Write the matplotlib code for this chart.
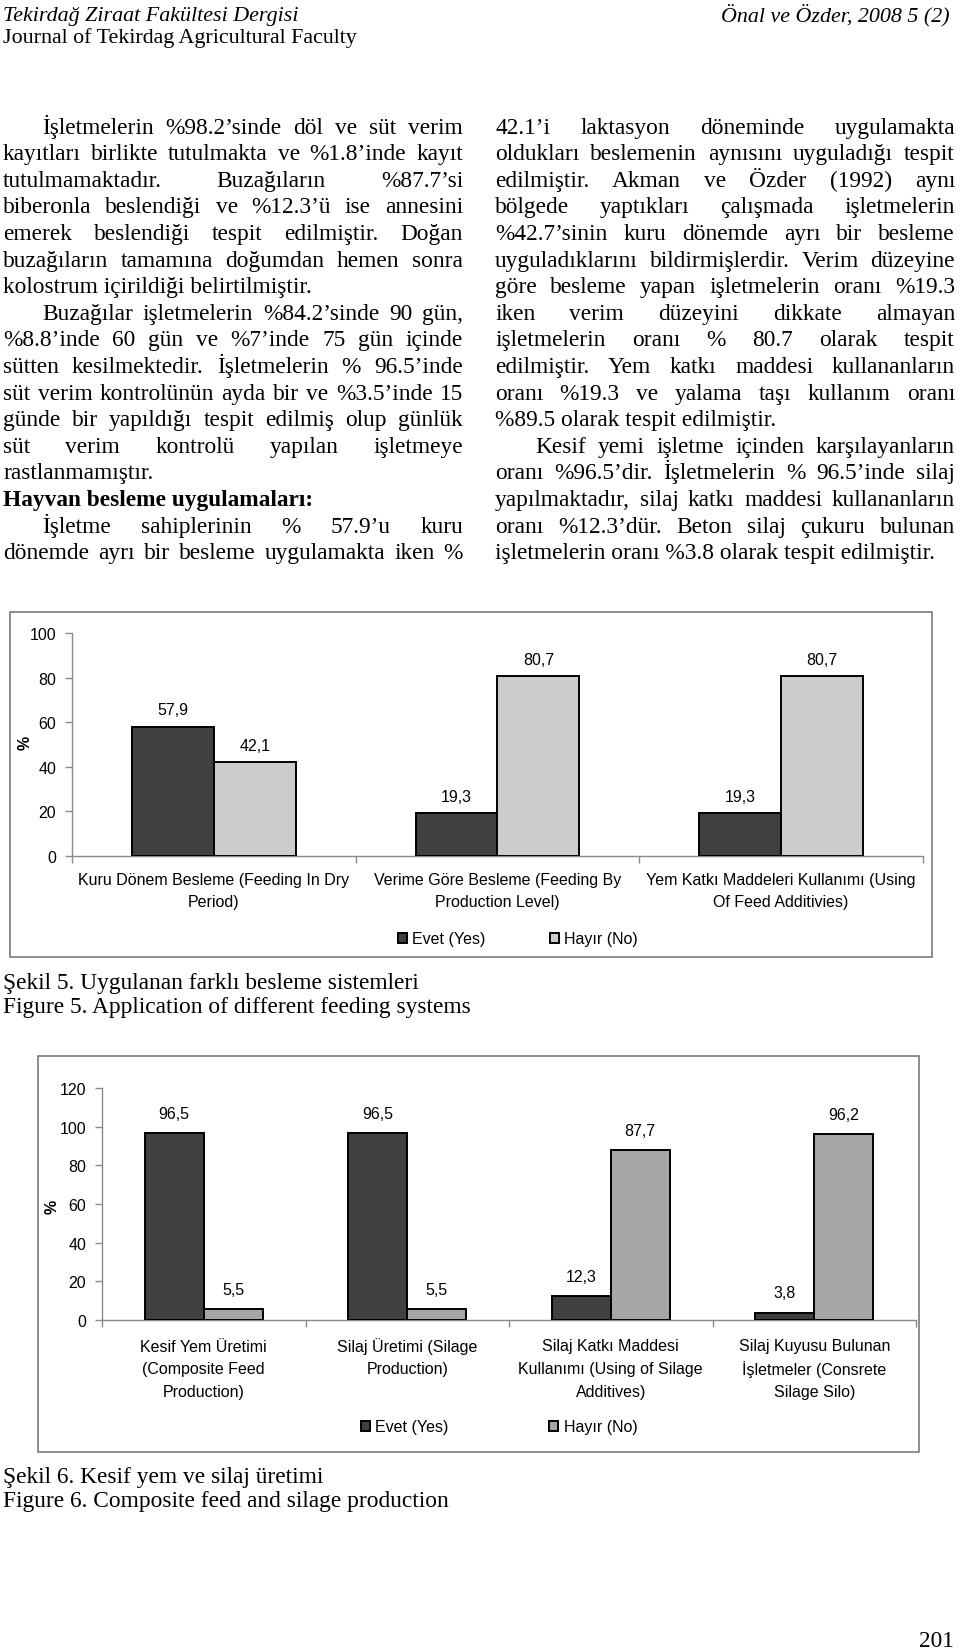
import matplotlib
matplotlib.use('Agg')
import matplotlib.pyplot as plt
from matplotlib.patches import Rectangle
from matplotlib.font_manager import FontProperties
import numpy as np

# ---------------- data ----------------
cats1 = ['Kuru Dönem Besleme (Feeding In Dry\nPeriod)',
         'Verime Göre Besleme (Feeding By\nProduction Level)',
         'Yem Katkı Maddeleri Kullanımı (Using\nOf Feed Additivies)']
evet1 = [57.9, 19.3, 19.3]
hayir1 = [42.1, 80.7, 80.7]

cats2 = ['Kesif Yem Üretimi\n(Composite Feed\nProduction)',
         'Silaj Üretimi (Silage\nProduction)',
         'Silaj Katkı Maddesi\nKullanımı (Using of Silage\nAdditives)',
         'Silaj Kuyusu Bulunan\nİşletmeler (Consrete\nSilage Silo)']
evet2 = [96.5, 96.5, 12.3, 3.8]
hayir2 = [5.5, 5.5, 87.7, 96.2]

legend_labels = ['Evet (Yes)', 'Hayır (No)']
yticks1 = [0, 20, 40, 60, 80, 100]
yticks2 = [0, 20, 40, 60, 80, 100, 120]

header_left1 = 'Tekirdağ Ziraat Fakültesi Dergisi'
header_left2 = 'Journal of Tekirdag Agricultural Faculty'
header_right = 'Önal ve Özder, 2008 5 (2)'

# (text, mode) mode: J justified, L left, I indent+justified, B bold left
left_col = [
    ('İşletmelerin %98.2’sinde döl ve süt verim', 'I'),
    ('kayıtları birlikte tutulmakta ve %1.8’inde kayıt', 'J'),
    ('tutulmamaktadır. Buzağıların %87.7’si', 'J'),
    ('biberonla beslendiği ve %12.3’ü ise annesini', 'J'),
    ('emerek beslendiği tespit edilmiştir. Doğan', 'J'),
    ('buzağıların tamamına doğumdan hemen sonra', 'J'),
    ('kolostrum içirildiği belirtilmiştir.', 'L'),
    ('Buzağılar işletmelerin %84.2’sinde 90 gün,', 'I'),
    ('%8.8’inde 60 gün ve %7’inde 75 gün içinde', 'J'),
    ('sütten kesilmektedir. İşletmelerin % 96.5’inde', 'J'),
    ('süt verim kontrolünün ayda bir ve %3.5’inde 15', 'J'),
    ('günde bir yapıldığı tespit edilmiş olup günlük', 'J'),
    ('süt verim kontrolü yapılan işletmeye', 'J'),
    ('rastlanmamıştır.', 'L'),
    ('Hayvan besleme uygulamaları:', 'B'),
    ('İşletme sahiplerinin % 57.9’u kuru', 'I'),
    ('dönemde ayrı bir besleme uygulamakta iken %', 'J'),
]
right_col = [
    ('42.1’i laktasyon döneminde uygulamakta', 'J'),
    ('oldukları beslemenin aynısını uyguladığı tespit', 'J'),
    ('edilmiştir. Akman ve Özder (1992) aynı', 'J'),
    ('bölgede yaptıkları çalışmada işletmelerin', 'J'),
    ('%42.7’sinin kuru dönemde ayrı bir besleme', 'J'),
    ('uyguladıklarını bildirmişlerdir. Verim düzeyine', 'J'),
    ('göre besleme yapan işletmelerin oranı %19.3', 'J'),
    ('iken verim düzeyini dikkate almayan', 'J'),
    ('işletmelerin oranı % 80.7 olarak tespit', 'J'),
    ('edilmiştir. Yem katkı maddesi kullananların', 'J'),
    ('oranı %19.3 ve yalama taşı kullanım oranı', 'J'),
    ('%89.5 olarak tespit edilmiştir.', 'L'),
    ('Kesif yemi işletme içinden karşılayanların', 'I'),
    ('oranı %96.5’dir. İşletmelerin % 96.5’inde silaj', 'J'),
    ('yapılmaktadır, silaj katkı maddesi kullananların', 'J'),
    ('oranı %12.3’dür. Beton silaj çukuru bulunan', 'J'),
    ('işletmelerin oranı %3.8 olarak tespit edilmiştir.', 'L'),
]
caption5 = ['Şekil 5. Uygulanan farklı besleme sistemleri',
            'Figure 5. Application of different feeding systems']
caption6 = ['Şekil 6. Kesif yem ve silaj üretimi',
            'Figure 6. Composite feed and silage production']
page_no = '201'

# ---------------- figure ----------------
W, H, DPI = 960, 1649, 100
fig = plt.figure(figsize=(W / DPI, H / DPI), dpi=DPI)
fig.patch.set_facecolor('white')
renderer = fig.canvas.get_renderer()

SERIF = ['Liberation Serif', 'DejaVu Serif']
SANS = ['Liberation Sans', 'DejaVu Sans']
BODY_FS = 16.8
fp_body = FontProperties(family=SERIF, size=BODY_FS)
fp_bold = FontProperties(family=SERIF, size=BODY_FS, weight='bold')
fp_head = FontProperties(family=SERIF, size=15.8)
fp_head_it = FontProperties(family=SERIF, size=15.8, style='italic')
CH_FS = 11.5
fp_sans = FontProperties(family=SANS, size=CH_FS)
fp_sans_b = FontProperties(family=SANS, size=CH_FS, weight='bold')


def fx(x):
    return x / W


def fy(y):
    return 1 - y / H


def twidth(s, fp):
    w, h, d = renderer.get_text_width_height_descent(s, fp, ismath=False)
    return w


def put(s, x, yc, fp, ha='left'):
    base = yc + 0.28 * fp.get_size() * DPI / 72.0
    fig.text(fx(x), fy(base), s, fontproperties=fp, ha=ha, va='baseline')


def draw_column(lines, x0, x1, y0, dy, indent):
    for i, (s, mode) in enumerate(lines):
        yc = y0 + i * dy
        fp = fp_bold if mode == 'B' else fp_body
        xs = x0 + (indent if mode == 'I' else 0)
        if mode in ('L', 'B'):
            put(s, xs, yc, fp)
            continue
        words = s.split()
        widths = [twidth(w, fp) for w in words]
        gap = (x1 - xs - sum(widths)) / (len(words) - 1)
        x = xs
        for w, wd in zip(words, widths):
            put(w, x, yc, fp)
            x += wd + gap


# header
put(header_left1, 3, 15, fp_head_it)
put(header_left2, 3, 37, fp_head)
put(header_right, 950, 15, fp_head_it, ha='right')

# body
LINE = 26.6
draw_column(left_col, 3, 463, 127, LINE, 39)
draw_column(right_col, 495, 955, 127, LINE, 40)


def add_box(x0, y0, x1, y1):
    fig.add_artist(Rectangle((fx(x0), fy(y1)), (x1 - x0) / W, (y1 - y0) / H,
                             transform=fig.transFigure, fill=False,
                             edgecolor='#7a7a7a', lw=1.2))


def make_chart(axpix, cats, ev, hy, yticks, light, lab_off, cat_off, cat_sp,
               width, ylab_xy, leg_xy, colsp):
    l, t, r, b = axpix
    ax = fig.add_axes([fx(l), fy(b), (r - l) / W, (b - t) / H])
    n = len(cats)
    x = np.arange(n)
    b1 = ax.bar(x - width / 2, ev, width, color='#404040', edgecolor='black', lw=1.4, zorder=3)
    b2 = ax.bar(x + width / 2, hy, width, color=light, edgecolor='black', lw=1.4, zorder=3)
    ax.set_xlim(-0.5, n - 0.5)
    ax.set_ylim(yticks[0], yticks[-1])
    ax.set_yticks(yticks)
    ax.set_yticklabels([str(v) for v in yticks])
    ax.set_xticks(np.arange(n + 1) - 0.5)
    ax.set_xticklabels([''] * (n + 1))
    for sp in ('top', 'right'):
        ax.spines[sp].set_visible(False)
    for sp in ('left', 'bottom'):
        ax.spines[sp].set_color('#8a8a8a')
        ax.spines[sp].set_linewidth(1.0)
    ax.tick_params(axis='both', direction='out', length=5, color='#8a8a8a', width=1.0)
    ax.tick_params(axis='y', pad=6.5)
    for lab in ax.get_yticklabels():
        lab.set_fontproperties(fp_sans)
    ax.set_facecolor('none')
    for xi, v in zip(x - width / 2, ev):
        ax.annotate(f'{v:.1f}'.replace('.', ','), xy=(xi, v), xytext=(0, lab_off),
                    textcoords='offset points', ha='center', va='center',
                    fontproperties=fp_sans)
    for xi, v in zip(x + width / 2, hy):
        ax.annotate(f'{v:.1f}'.replace('.', ','), xy=(xi, v), xytext=(0, lab_off),
                    textcoords='offset points', ha='center', va='center',
                    fontproperties=fp_sans)
    for xi, c in zip(x, cats):
        for j, line in enumerate(c.split('\n')):
            ax.annotate(line, xy=(xi, 0), xycoords=('data', 'axes fraction'),
                        xytext=(0, -(cat_off + j * cat_sp) * 0.72),
                        textcoords='offset points', ha='center', va='center',
                        fontproperties=fp_sans)
    fig.text(fx(ylab_xy[0]), fy(ylab_xy[1]), '%', rotation=90, ha='center',
             va='center', fontproperties=fp_sans_b)
    fig.legend(handles=[b1, b2], labels=legend_labels, loc='center',
               bbox_to_anchor=(fx(leg_xy[0]), fy(leg_xy[1])), ncol=2,
               frameon=False, prop=fp_sans, handlelength=0.55, handleheight=0.55,
               handletextpad=0.35, columnspacing=colsp, borderpad=0,
               borderaxespad=0)
    return ax


# chart 1
add_box(10, 613, 932, 958)
make_chart((72, 634, 923, 857), cats1, evet1, hayir1, yticks1, '#cccccc',
           12.2, 23, 22, 0.289, (25, 743), (518, 940), 4.0)
put(caption5[0], 3, 982, fp_body)
put(caption5[1], 3, 1006, fp_body)

# chart 2
add_box(38, 1057, 919, 1453)
make_chart((102, 1089, 916, 1321), cats2, evet2, hayir2, yticks2, '#a6a6a6',
           14.4, 26, 22.5, 0.29, (52, 1207), (499, 1428), 6.3)
put(caption6[0], 3, 1476, fp_body)
put(caption6[1], 3, 1500, fp_body)

put(page_no, 954, 1640, fp_body, ha='right')

fig.savefig('out.png', dpi=DPI, facecolor='white')
